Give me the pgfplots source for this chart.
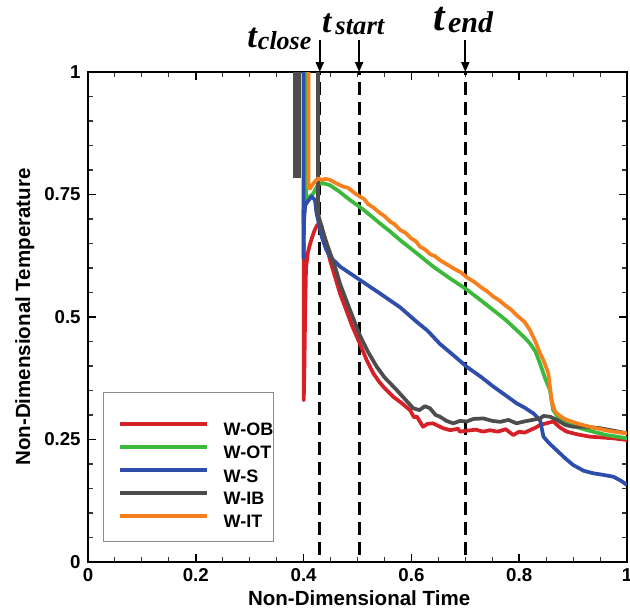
\documentclass[border=0pt]{standalone}
\usepackage{pgfplots}
\pgfplotsset{compat=1.18}
\usepackage{fontspec}
\setmainfont{Liberation Sans}
\newfontfamily\tfont{Liberation Serif}
\usetikzlibrary{arrows.meta}
\definecolor{cRed}{RGB}{214,32,39}
\definecolor{cGreen}{RGB}{60,184,60}
\definecolor{cBlue}{RGB}{46,78,172}
\definecolor{cGray}{RGB}{77,77,77}
\definecolor{cOrange}{RGB}{247,128,30}
\newcommand\tsym[4]{{\tfont\bfseries\itshape\fontsize{#1}{#1}\selectfont t\kern#3\raisebox{-1.5pt}{\fontsize{#2}{#2}\selectfont #4}}}
\newcommand\lf{\fontsize{13.5}{14}\selectfont\bfseries}
\begin{document}
\begin{tikzpicture}
\begin{axis}[
  scale only axis, width=404.25pt, height=367.5pt,
  xmin=0, xmax=1, ymin=0, ymax=1,
  clip mode=individual,
  axis line style={black, line width=1.5pt},
  tick pos=both, tick align=inside,
  xtick={0,0.2,0.4,0.6,0.8,1}, xticklabels={0,0.2,0.4,0.6,0.8,1},
  ytick={0,0.25,0.5,0.75,1}, yticklabels={0,0.25,0.5,0.75,1},
  minor x tick num=3, minor y tick num=4,
  major tick length=6pt, minor tick length=3.75pt,
  every major tick/.append style={black, line width=1.1pt},
  every minor tick/.append style={black!80, line width=0.8pt},
  /pgf/number format/assume math mode=true,
  tick label style={font=\fontsize{14}{14}\selectfont\bfseries},
  xticklabel style={yshift=-1.5pt},
  yticklabel style={xshift=-2pt},
  xlabel={Non-Dimensional Time},
  ylabel={Non-Dimensional Temperature},
  label style={font=\fontsize{15.4}{16}\selectfont\bfseries},
  xlabel style={at={(axis description cs:0.503,-0.073)}, anchor=center},
  ylabel style={at={(axis description cs:-0.117,0.5)}, anchor=center, rotate=0},
  legend cell align=left,
  legend style={at={(axis description cs:0.0557,0.1755)}, anchor=west,
    draw=none, fill=none, inner xsep=0pt, inner ysep=0pt,
    nodes={inner sep=0pt}, column sep=11.25pt, row sep=5.4pt},
  legend image code/.code={\draw[#1] (0pt,5pt) -- (65pt,5pt);},
  every axis plot/.append style={line width=2.8pt, line join=round},
]
% legend frame
\draw[black!45, line width=0.7pt] (axis description cs:0.028,0.345) rectangle (axis description cs:0.345,0.0429);
% dashed event lines
\addplot[black, line width=2.2pt, dash pattern=on 9.5pt off 5.5pt, forget plot] coordinates {(0.43,0.015) (0.43,1)};
\addplot[black, line width=2.2pt, dash pattern=on 9.5pt off 5.5pt, forget plot] coordinates {(0.503,0.015) (0.503,1)};
\addplot[black, line width=2.2pt, dash pattern=on 9.5pt off 5.5pt, forget plot] coordinates {(0.70,0.015) (0.70,1)};
% W-IB oscillation block
\addplot[cGray, line width=6pt, line cap=butt, forget plot] coordinates {(0.3877,0.783) (0.3877,1.0)};
% W-OB
\addplot[cRed] coordinates {
(0.4000,0.72) (0.4003,0.33) (0.4015,0.40) (0.403,0.52) (0.4045,0.60) (0.408,0.632) (0.411,0.645) (0.415,0.66) (0.420,0.676) (0.425,0.687) (0.429,0.691) (0.433,0.687)
(0.44,0.655) (0.45,0.612) (0.46,0.576) (0.4675,0.548) (0.4768,0.521) (0.49,0.482) (0.5046,0.445) (0.517,0.412) (0.5294,0.385) (0.54,0.368) (0.55,0.355) (0.5665,0.337) (0.58,0.326) (0.5974,0.31)
(0.605,0.295) (0.61,0.297) (0.6216,0.276) (0.63,0.282) (0.64,0.283) (0.659,0.273) (0.672,0.269) (0.6865,0.272) (0.69,0.266) (0.7025,0.268) (0.72,0.27) (0.733,0.266) (0.7458,0.269) (0.76,0.266) (0.775,0.271) (0.789,0.259)
(0.80,0.266) (0.81,0.264) (0.82,0.269) (0.83,0.274) (0.8386,0.2796) (0.85,0.283) (0.8633,0.2867) (0.875,0.275) (0.888,0.266) (0.91,0.26) (0.931,0.2558) (0.955,0.254) (0.9746,0.2524) (1.0,0.249)};
% W-OT
\addplot[cGreen] coordinates {
(0.405,1.0) (0.405,0.736) (0.411,0.745) (0.418,0.752) (0.424,0.765) (0.43,0.773) (0.44,0.772) (0.449,0.769) (0.465,0.757) (0.486,0.7388) (0.51,0.72) (0.5417,0.691) (0.56,0.675) (0.579,0.657)
(0.61,0.63) (0.6406,0.6027) (0.67,0.58) (0.704,0.555) (0.73,0.533) (0.752,0.514) (0.775,0.494) (0.795,0.4735) (0.81,0.458) (0.82,0.446) (0.83,0.43) (0.8386,0.405) (0.848,0.375) (0.857,0.351)
(0.863,0.31) (0.8757,0.29) (0.895,0.28) (0.913,0.273) (0.94,0.265) (0.962,0.259) (0.98,0.256) (1.0,0.2524)};
% W-S
\addplot[cBlue] coordinates {
(0.3998,1.0) (0.3998,0.62) (0.401,0.70) (0.403,0.728) (0.409,0.738) (0.415,0.7456) (0.421,0.739) (0.424,0.712) (0.4336,0.664) (0.441,0.64) (0.449,0.623) (0.4675,0.603) (0.485,0.59) (0.5046,0.5755)
(0.5417,0.548) (0.5788,0.52) (0.61,0.49) (0.63,0.472) (0.653,0.445) (0.68,0.42) (0.7025,0.3986) (0.73,0.377) (0.752,0.358) (0.775,0.34) (0.795,0.324) (0.81,0.315) (0.826,0.3035) (0.8386,0.29)
(0.845,0.2557) (0.855,0.243) (0.869,0.2286) (0.885,0.212) (0.9,0.198) (0.92,0.186) (0.9375,0.181) (0.955,0.178) (0.975,0.174) (0.99,0.165) (1.0,0.157)};
% W-IB
\addplot[cGray] coordinates {
(0.4265,1.0) (0.4265,0.72) (0.428,0.705) (0.435,0.678) (0.443,0.65) (0.452,0.622) (0.461,0.593) (0.4675,0.568) (0.483,0.523) (0.5046,0.462) (0.52,0.428) (0.5356,0.3986) (0.55,0.377) (0.5727,0.351)
(0.59,0.33) (0.6035,0.3137) (0.615,0.31) (0.625,0.318) (0.6345,0.3137) (0.645,0.30) (0.653,0.2966) (0.665,0.288) (0.6777,0.283) (0.69,0.288) (0.7025,0.2867) (0.715,0.292) (0.7335,0.293) (0.75,0.288)
(0.765,0.286) (0.78,0.29) (0.795,0.283) (0.81,0.287) (0.825,0.29) (0.8386,0.293) (0.845,0.298) (0.857,0.2966) (0.87,0.29) (0.885,0.28) (0.9,0.276) (0.925,0.276) (0.95,0.273) (0.975,0.268) (1.0,0.2626)};
% W-IT
\addplot[cOrange] coordinates {
(0.409,1.0) (0.409,0.765) (0.412,0.762) (0.415,0.768) (0.42,0.775) (0.427,0.783) (0.435,0.779) (0.44,0.782) (0.449,0.78) (0.46,0.773) (0.4737,0.766) (0.482,0.764) (0.49,0.757) (0.497,0.751) (0.5046,0.7456) (0.512,0.741) (0.52,0.73)
(0.53,0.723) (0.5417,0.712) (0.55,0.706) (0.56,0.695) (0.568,0.690) (0.5788,0.678) (0.59,0.671) (0.6,0.66) (0.608,0.655) (0.616,0.6435) (0.625,0.638) (0.635,0.628) (0.644,0.624) (0.653,0.616) (0.665,0.608) (0.68,0.598)
(0.692,0.591) (0.704,0.58) (0.716,0.572) (0.73,0.56) (0.74,0.553) (0.752,0.5415) (0.763,0.534) (0.775,0.523) (0.785,0.515) (0.795,0.504) (0.81,0.49)
(0.82,0.473) (0.83,0.45) (0.8386,0.426) (0.845,0.412) (0.854,0.385) (0.86,0.33) (0.8664,0.3068) (0.877,0.297) (0.888,0.29) (0.91,0.282) (0.931,0.276) (0.955,0.27) (0.9746,0.266) (1.0,0.2626)};
\legend{{\lf W-OB}, {\lf W-OT}, {\lf W-S}, {\lf W-IB}, {\lf W-IT}}
% annotations
\draw[line width=1.5pt, -{Triangle[length=7.5pt,width=6pt]}] (axis cs:0.43,1.0653) -- (axis cs:0.43,1.0);
\draw[line width=1.5pt, -{Triangle[length=7.5pt,width=6pt]}] (axis cs:0.503,1.0653) -- (axis cs:0.503,1.0);
\draw[line width=1.5pt, -{Triangle[length=7.5pt,width=6pt]}] (axis cs:0.70,1.0653) -- (axis cs:0.70,1.0);
\node[anchor=base west, inner sep=0pt] at (axis cs:0.295,1.049) {\tsym{26}{19.5}{0.8pt}{close}};
\node[anchor=base west, inner sep=0pt] at (axis cs:0.434,1.0796) {\tsym{25}{20}{3pt}{start}};
\node[anchor=base west, inner sep=0pt] at (axis cs:0.640,1.0837) {\tsym{31}{22.5}{2.5pt}{end}};
\end{axis}
\pgfresetboundingbox
\path[use as bounding box] (-66pt,-39.75pt) rectangle (406.5pt,421.5pt);
\end{tikzpicture}
\end{document}
